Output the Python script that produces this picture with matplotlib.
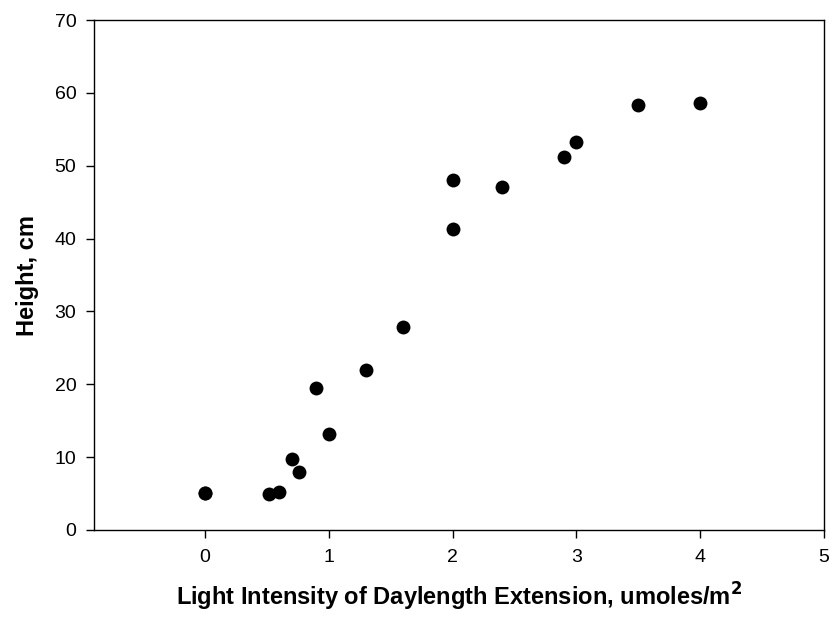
import matplotlib
matplotlib.use("Agg")
from matplotlib import pyplot as plt

plt.rcParams["font.family"] = ["Liberation Sans", "DejaVu Sans"]

# light intensity (umoles/m2) vs plant height (cm)
light = [0, 0, 0.52, 0.6, 0.7, 0.76, 0.9, 1.0, 1.3, 1.6, 2.0, 2.0, 2.4, 2.9, 3.0, 3.5, 4.0]
height = [5.1, 5.1, 4.95, 5.2, 9.8, 8.0, 19.5, 13.2, 21.9, 27.9, 48.0, 41.3, 47.1, 51.2, 53.3, 58.3, 58.6]

xticks = [0, 1, 2, 3, 4, 5]
yticks = [0, 10, 20, 30, 40, 50, 60, 70]

fig = plt.figure(figsize=(8.33, 6.2), dpi=100)
ax = fig.add_axes([0.1125, 0.1452, 0.989 - 0.1125, 0.9677 - 0.1452])

ax.plot(light, height, "o", color="black", markersize=10, markeredgewidth=0)

ax.set_xlim(-0.9, 5)
ax.set_ylim(0, 70)
ax.set_xticks(xticks)
ax.set_yticks(yticks)
ax.tick_params(direction="out", length=5.5, width=1, labelsize=14)
ax.tick_params(axis="x", pad=8.5)
ax.tick_params(axis="y", pad=7)
for s in ax.spines.values():
    s.set_linewidth(1)

ax.set_xlabel("Light Intensity of Daylength Extension, umoles/m$^\\mathbf{2}$",
              fontsize=17, fontweight="bold", labelpad=10)
ax.set_ylabel("Height, cm", fontsize=17, fontweight="bold", labelpad=11)

fig.savefig("out.png", dpi=100)
